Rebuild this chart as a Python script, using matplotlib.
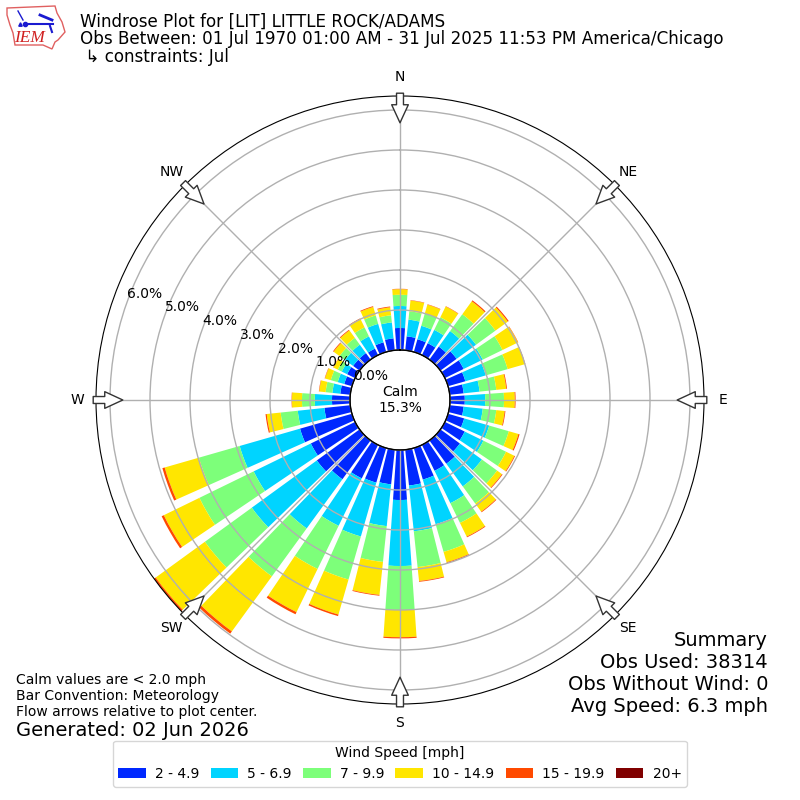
import numpy as np
import matplotlib
matplotlib.use("Agg")
import matplotlib.pyplot as plt
from matplotlib.patches import Polygon, Patch

# ==============================
# Datos (% de observaciones por direccion)
# ==============================
directions = [10, 20, 30, 40, 50, 60, 70, 80, 90, 100, 110, 120,
              130, 140, 150, 160, 170, 180, 190, 200, 210, 220, 230, 240,
              250, 260, 270, 280, 290, 300, 310, 320, 330, 340, 350, 360]

speed_2_5 = [.35, .33, .33, .40, .50, .52, .45, .35, .37, .35, .42, .55,
             .60, .72, .72, .82, .90, 1.25, .87, .90, .93, 1.20, 1.32, 1.23,
             1.35, .65, .45, .25, .20, .22, .20, .20, .18, .25, .30, .55]
speed_5_7 = [.42, .35, .37, .48, .60, .53, .53, .40, .51, .48, .65, .52,
             .68, .70, .90, 1.16, 1.15, 1.65, 1.05, 1.40, 1.32, 1.52, 2.01, 1.59,
             1.57, .67, .43, .20, .17, .15, .25, .26, .34, .48, .40, .55]
speed_7_10 = [.21, .32, .35, .52, .60, .55, .57, .42, .47, .34, .51, .63,
              .47, .53, .55, .72, .90, 1.10, .90, 1.12, 1.20, 1.48, 1.45, 1.51,
              1.06, .43, .32, .17, .18, .11, .17, .21, .25, .22, .18, .28]
speed_10_15 = [.27, .23, .30, .40, .38, .43, .45, .25, .27, .21, .25, .23,
               .15, .25, .38, .27, .35, .68, .83, .91, 1.20, 1.70, 1.52, .99,
               .89, .35, .25, .16, .15, .12, .18, .23, .23, .22, .20, .14]
speed_15_20 = [.01, .01, .01, .03, .03, .01, .01, .02, .02, .02, .03, .02,
               .02, .02, .02, .02, .02, .03, .02, .04, .06, .07, .06, .06,
               .06, .03, .01, .01, .01, .01, .02, .02, .02, .02, .02, .01]
speed_20 = [0] * 36

bins = [speed_2_5, speed_5_7, speed_7_10, speed_10_15, speed_15_20, speed_20]
bin_labels = ["2 - 4.9", "5 - 6.9", "7 - 9.9", "10 - 14.9", "15 - 19.9", "20+"]
bin_colors = ["#0028ff", "#00d4ff", "#7dff7a", "#ffe600", "#ff4a00", "#800000"]

ring_values = [0, 1, 2, 3, 4, 5, 6]
ring_labels = ["0.0%", "1.0%", "2.0%", "3.0%", "4.0%", "5.0%", "6.0%"]
compass_angles = [0, 45, 90, 135, 180, 225, 270, 315]
compass_labels = ["N", "NE", "E", "SE", "S", "SW", "W", "NW"]

title = ("Windrose Plot for [LIT] LITTLE ROCK/ADAMS\n"
         "Obs Between: 01 Jul 1970 01:00 AM - 31 Jul 2025 11:53 PM America/Chicago\n"
         " \u21b3 constraints: Jul")
summary = "Summary\nObs Used: 38314\nObs Without Wind: 0\nAvg Speed: 6.3 mph"
notes = "Calm values are < 2.0 mph\nBar Convention: Meteorology\nFlow arrows relative to plot center."
generated = "Generated: 02 Jun 2026"

# ==============================
# Rosa de los vientos
# ==============================
fig = plt.figure(figsize=(8, 8), dpi=100)
ax = fig.add_axes([0.12, 0.12, 0.76, 0.76], projection="polar")
ax.set_theta_zero_location("N")
ax.set_theta_direction(-1)
ax.set_rorigin(-1.25)
ax.set_rlim(0, 6.35)

theta = np.deg2rad(directions)
bottom = np.zeros(36)
for values, color in zip(bins, bin_colors):
    ax.bar(theta, values, width=np.deg2rad(8), bottom=bottom, color=color, linewidth=0)
    bottom += np.array(values)

ax.set_axisbelow(False)
ax.grid(True, color="#b0b0b0", linewidth=1)
ax.set_rgrids(ring_values, ring_labels, angle=290, fontsize=10)
ax.set_thetagrids(compass_angles, compass_labels, fontsize=10)
ax.tick_params(axis="x", pad=3)

# circulo interior (calma)
circle_t = np.linspace(0, 2 * np.pi, 361)
ax.plot(circle_t, np.zeros(361), color="black", linewidth=1, clip_on=False, zorder=3)
ax.text(0.5, 0.5, "Calm\n15.3%", transform=ax.transAxes, ha="center", va="center", fontsize=10)

# flechas de flujo
for ang in compass_angles:
    a = np.deg2rad(ang)
    ax.annotate("", xy=(a, 5.68), xytext=(a, 6.42), annotation_clip=False,
                arrowprops=dict(facecolor="white", edgecolor="#333333", linewidth=1,
                                width=5, headwidth=12, headlength=13, shrink=0))

# ==============================
# Textos
# ==============================
fig.text(80 / 800, 1 - 12.5 / 800, title, fontsize=12.02, va="top", ha="left", linespacing=1.0)
fig.text(768 / 800, 1 - 631 / 800, summary, fontsize=14, va="top", ha="right", multialignment="right")
fig.text(16 / 800, 1 - 673 / 800, notes, fontsize=10, va="top", ha="left")
fig.text(16 / 800, 1 - 730 / 800, generated, fontsize=14, va="center", ha="left")

handles = [Patch(facecolor=c, label=l) for c, l in zip(bin_colors, bin_labels)]
fig.legend(handles=handles, ncol=6, title="Wind Speed [mph]", loc="lower center",
           bbox_to_anchor=(0.5, 0.008), fontsize=10, title_fontsize=10,
           handlelength=2, handletextpad=0.65, columnspacing=0.8)

# ==============================
# Logo IEM (aproximado)
# ==============================
logo = fig.add_axes([0, 1 - 55 / 800, 70 / 800, 55 / 800])
logo.set_xlim(0, 70)
logo.set_ylim(55, 0)
logo.axis("off")
outline = [(7, 8), (55, 6), (57, 13), (62, 22), (65, 32), (58, 40), (55, 42),
           (52, 49), (43, 45), (15, 45), (13, 33), (10, 25), (7, 15)]
logo.add_patch(Polygon(outline, closed=True, fill=False, edgecolor="#e06060", linewidth=1))
logo.plot([25, 53], [24, 24], color="#1a1ad0", linewidth=1.5)
logo.plot([18, 23], [11, 20], color="#1a1ad0", linewidth=1)
logo.plot([40, 52], [15, 20], color="#1a1ad0", linewidth=2)
logo.plot([50, 52], [26, 32], color="#1a1ad0", linewidth=1.5)
logo.plot([25], [24], "o", color="#1a1ad0", markersize=3)
logo.plot([20], [24], "^", color="#1a1ad0", markersize=2.5)
logo.text(30, 38, "IEM", color="#d02020", family="Liberation Serif", style="italic",
          fontsize=12.5, ha="center", va="center")

fig.savefig("out.png", dpi=100)
